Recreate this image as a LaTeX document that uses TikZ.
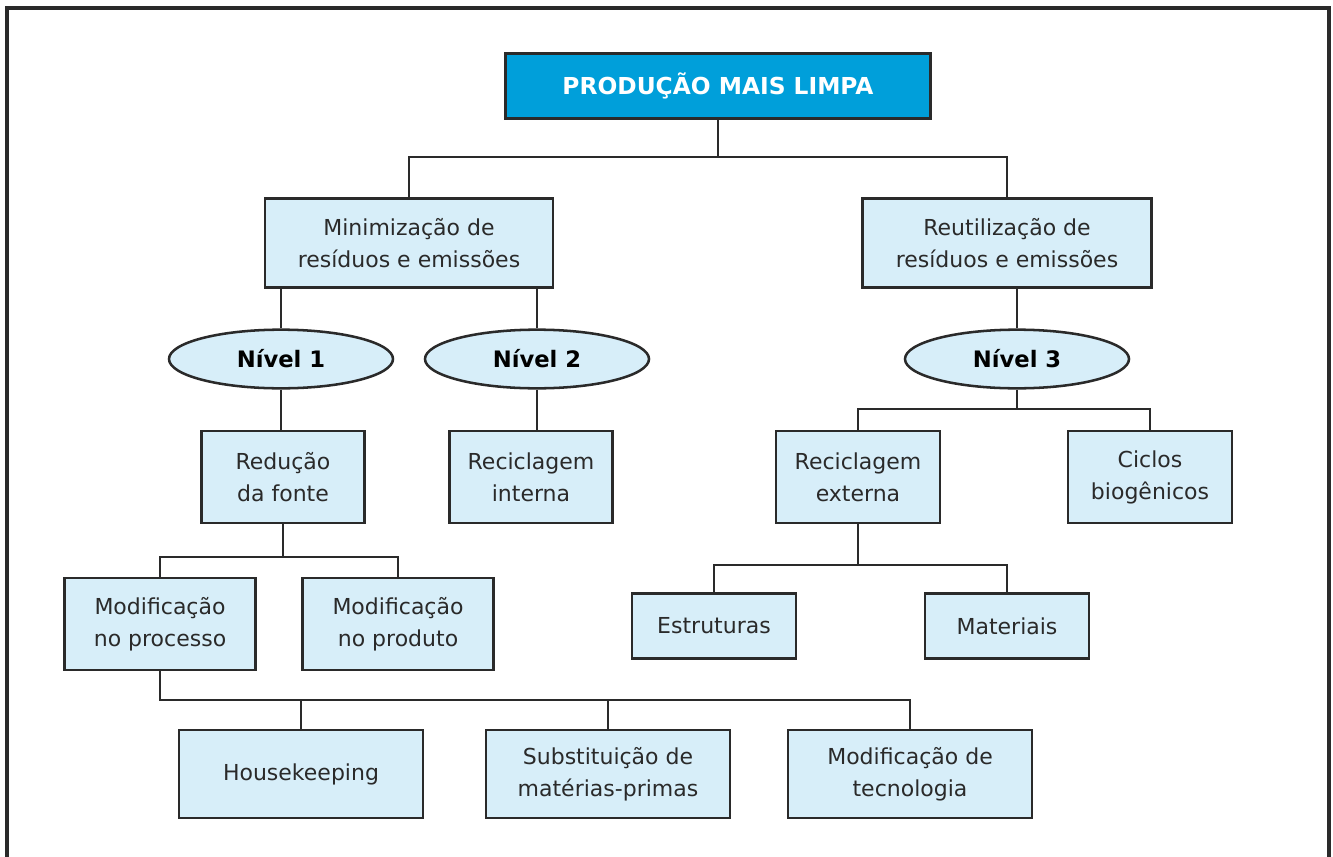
\documentclass[tikz,border=0pt]{standalone}
\usepackage{fontspec}
\setmainfont{DejaVu Sans}
\usepackage{tikz}
\usetikzlibrary{shapes.geometric}
\usepackage{xcolor}

\definecolor{azulforte}{HTML}{009FDA}
\definecolor{azulclaro}{HTML}{D7EEF9}
\definecolor{contorno}{HTML}{2A2A2A}

\tikzset{
  caixa/.style={draw=contorno, fill=azulclaro, line width=2.1pt, inner sep=0pt,
    align=center, text=contorno, font=\fontsize{16.5}{24}\selectfont},
  nivel/.style={ellipse, draw=contorno, fill=azulclaro, line width=1.9pt, inner sep=0pt,
    minimum width=168pt, minimum height=44pt, font=\fontsize{17}{20}\selectfont\bfseries},
  liga/.style={draw=contorno, line width=2.1pt}
}

\begin{document}
\begin{tikzpicture}[x=0.75pt, y=-0.75pt]
\useasboundingbox (0,0) rectangle (1333,856);

% moldura
\draw[contorno, line width=2.4pt] (7,860) -- (7,8) -- (1329,8) -- (1329,860);

% topo
\node[caixa, fill=azulforte, text=white, minimum width=319pt, minimum height=49pt,
  font=\fontsize{17.5}{20}\selectfont\bfseries] (pml) at (718,86) {PRODUÇÃO MAIS LIMPA};

\node[caixa, minimum width=216pt, minimum height=67pt] (mini) at (409,243) {Minimização de\\resíduos e emissões};
\node[caixa, minimum width=217pt, minimum height=67pt] (reut) at (1007,243) {Reutilização de\\resíduos e emissões};

% niveis
\node[nivel] (n1) at (281,359) {Nível 1};
\node[nivel] (n2) at (537,359) {Nível 2};
\node[nivel] (n3) at (1017,359) {Nível 3};

\node[caixa, minimum width=122pt, minimum height=69pt] (red) at (283,477) {Redução\\da fonte};
\node[caixa, minimum width=122pt, minimum height=69pt] (rint) at (531,477) {Reciclagem\\interna};
\node[caixa, minimum width=123pt, minimum height=69pt] (rext) at (858,477) {Reciclagem\\externa};
\node[caixa, minimum width=123pt, minimum height=69pt] (cic) at (1150,477) {Ciclos\\biogênicos};

\node[caixa, minimum width=143pt, minimum height=69pt] (mproc) at (160,624) {Modificação\\no processo};
\node[caixa, minimum width=143pt, minimum height=69pt] (mprod) at (398,624) {Modificação\\no produto};

\node[caixa, minimum width=123pt, minimum height=49pt] (est) at (714,626) {Estruturas};
\node[caixa, minimum width=123pt, minimum height=49pt] (mat) at (1007,626) {Materiais};

\node[caixa, minimum width=183pt, minimum height=66pt] (house) at (301,774) {Housekeeping};
\node[caixa, minimum width=183pt, minimum height=66pt] (subs) at (608,774) {Substituição de\\matérias-primas};
\node[caixa, minimum width=183pt, minimum height=66pt] (tec) at (910,774) {Modificação de\\tecnologia};

% ligacoes
\coordinate (j1) at (713,157);
\coordinate (j2) at (858,409);
\coordinate (j3) at (283,557);
\coordinate (j4) at (160,700);
\coordinate (j5) at (858,565);

\draw[liga] (pml.south) -- (pml.south |- j1);
\draw[liga] (mini.north) |- (j1) -| (reut.north);
\draw[liga] (n1.north) -- (n1.north |- mini.south);
\draw[liga] (n2.north) -- (n2.north |- mini.south);
\draw[liga] (n3.north) -- (n3.north |- reut.south);
\draw[liga] (n1.south) -- (n1.south |- red.north);
\draw[liga] (n2.south) -- (n2.south |- rint.north);
\draw[liga] (n3.south) -- (n3.south |- j2);
\draw[liga] (rext.north) |- (j2) -| (cic.north);
\draw[liga] (red.south) -- (j3);
\draw[liga] (mproc.north) |- (j3) -| (mprod.north);
\draw[liga] (mproc.south) -- (j4) -| (tec.north);
\draw[liga] (house.north) -- (house.north |- j4);
\draw[liga] (subs.north) -- (subs.north |- j4);
\draw[liga] (rext.south) -- (j5);
\draw[liga] (est.north) |- (j5) -| (mat.north);

\end{tikzpicture}
\end{document}
